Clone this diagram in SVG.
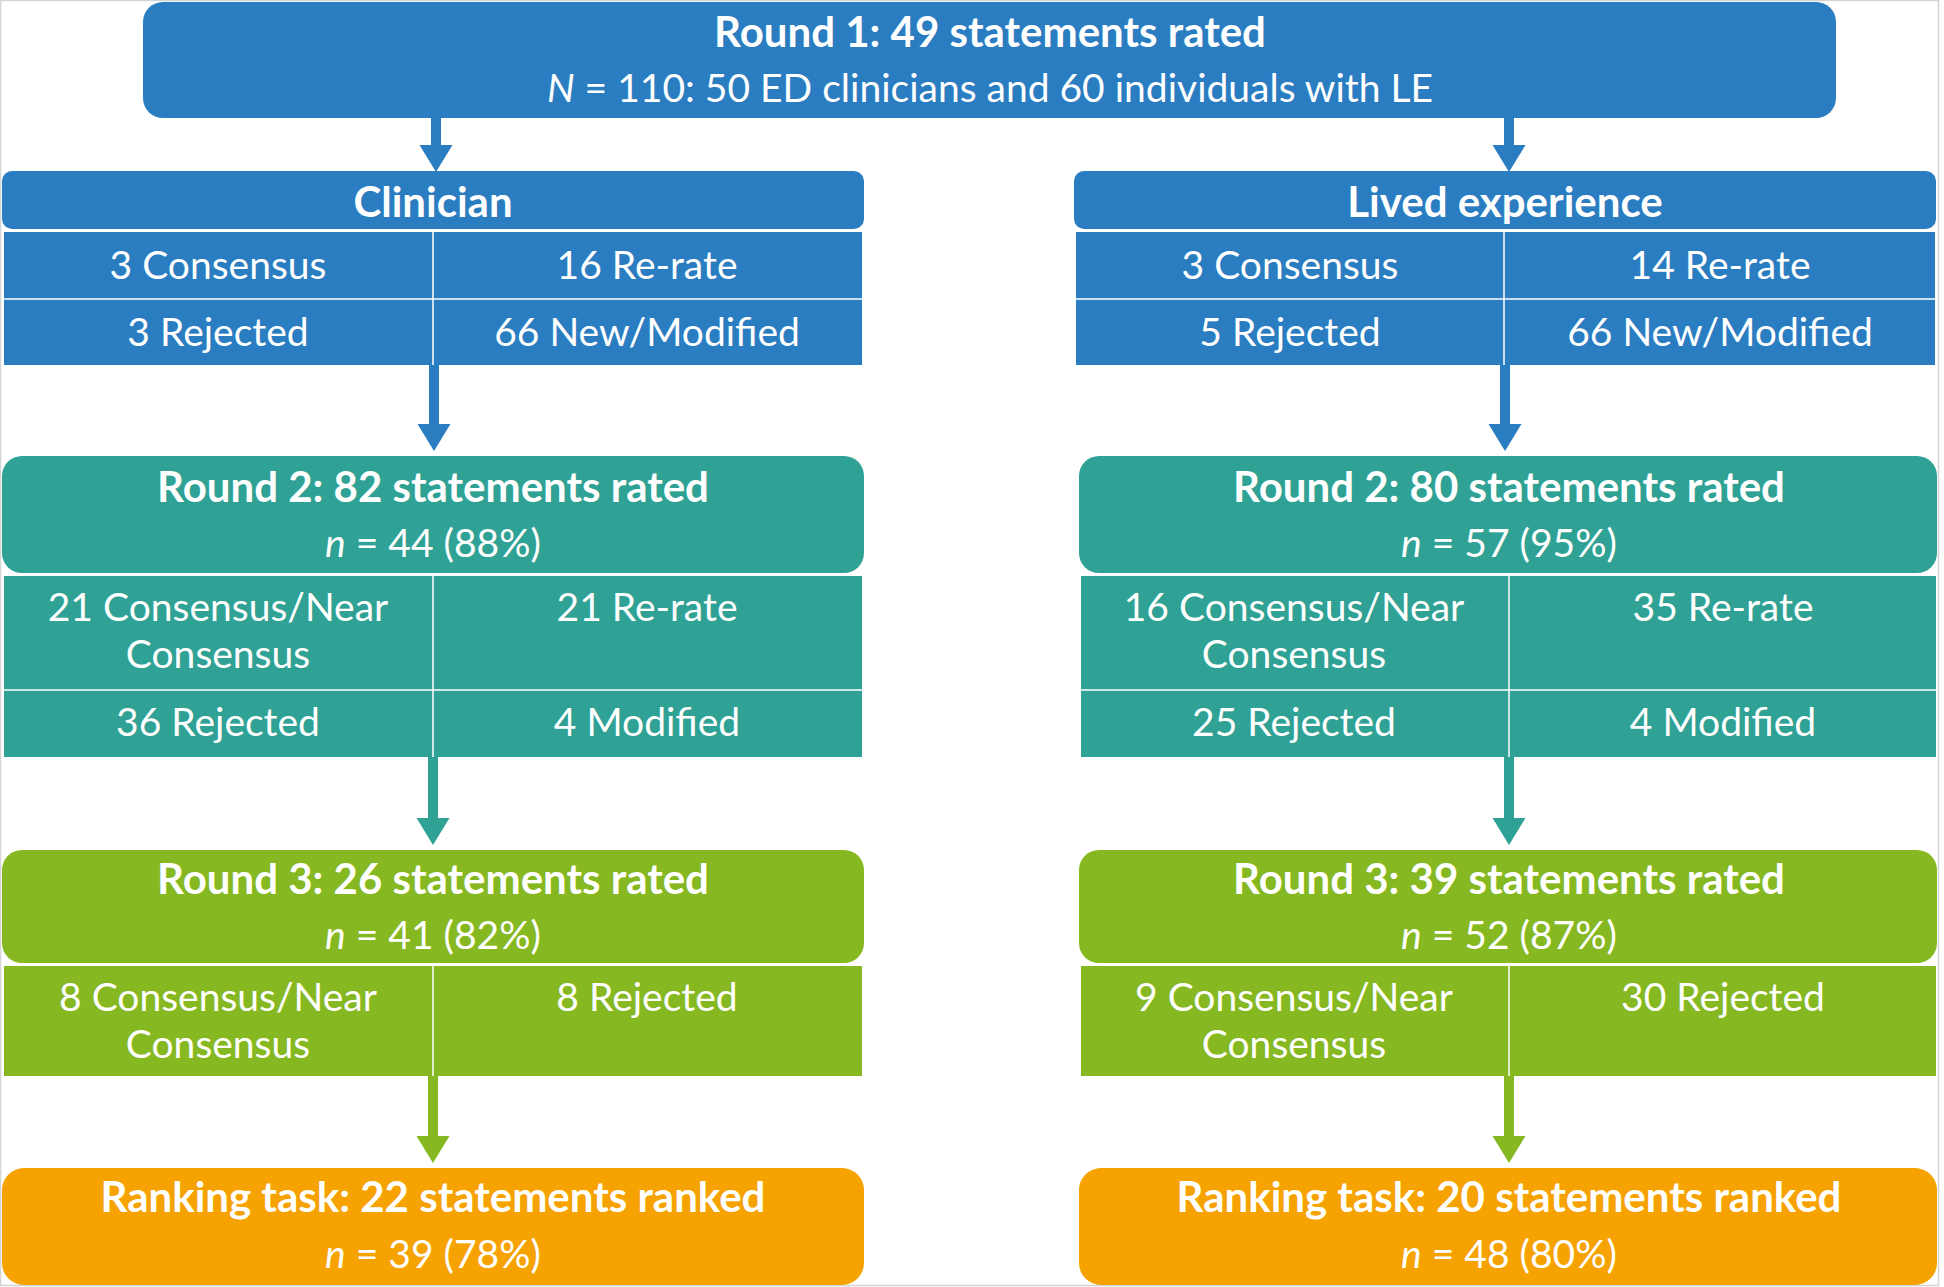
<svg xmlns="http://www.w3.org/2000/svg" width="1944" height="1287" viewBox="0 0 1944 1287">
<style>
.t{font-family:Lato,"Liberation Sans",sans-serif;fill:#fff;text-anchor:middle;font-size:39px}
.b{font-weight:bold;font-size:42px}
.i{font-style:italic}
.blue{fill:#2B7DC1}
.teal{fill:#30A295}
.green{fill:#86B821}
.orange{fill:#F6A200}
.div{stroke:#ffffff;stroke-opacity:0.75;stroke-width:2}
</style>
<defs>
<path id="ah" d="M-16.5,0 L16.5,0 L0,27 Z"/>
</defs>
<rect x="0" y="0" width="1944" height="1287" fill="#fff"/>
<rect x="0.5" y="0.5" width="1938" height="1285" fill="none" stroke="#d4d4d4" stroke-width="1.5"/>

<g id="connectors">
<g class="blue">
<rect x="431" y="118" width="10" height="30"/><use href="#ah" x="436" y="145"/>
<rect x="1504" y="118" width="10" height="30"/><use href="#ah" x="1509" y="145"/>
<rect x="429" y="365" width="10" height="62"/><use href="#ah" x="434" y="424"/>
<rect x="1500" y="365" width="10" height="62"/><use href="#ah" x="1505" y="424"/>
</g>
<g class="teal">
<rect x="428" y="757" width="10" height="62"/><use href="#ah" x="433" y="818"/>
<rect x="1504" y="757" width="10" height="62"/><use href="#ah" x="1509" y="818"/>
</g>
<g class="green">
<rect x="428" y="1076" width="10" height="60"/><use href="#ah" x="433" y="1136"/>
<rect x="1504" y="1076" width="10" height="60"/><use href="#ah" x="1509" y="1136"/>
</g>
</g>

<g id="round1">
<rect class="blue" x="143" y="2" width="1693" height="116" rx="20"/>
<text class="t b" x="990" y="47">Round 1: 49 statements rated</text>
<text class="t" x="990" y="102"><tspan class="i">N</tspan> = 110: 50 ED clinicians and 60 individuals with LE</text>
</g>

<g id="clinician-header">
<rect class="blue" x="2" y="171" width="862" height="58" rx="10"/>
<text class="t b" x="433" y="217">Clinician</text>
</g>
<g id="clinician-r1-table">
<rect class="blue" x="4" y="232" width="858" height="133"/>
<line class="div" x1="4" y1="299" x2="862" y2="299"/>
<line class="div" x1="433" y1="232" x2="433" y2="365"/>
<text class="t" x="218" y="279">3 Consensus</text>
<text class="t" x="647" y="279">16 Re-rate</text>
<text class="t" x="218" y="346">3 Rejected</text>
<text class="t" x="647" y="346">66 New/Modified</text>
</g>

<g id="le-header">
<rect class="blue" x="1074" y="171" width="862" height="58" rx="10"/>
<text class="t b" x="1505" y="217">Lived experience</text>
</g>
<g id="le-r1-table">
<rect class="blue" x="1076" y="232" width="859" height="133"/>
<line class="div" x1="1076" y1="299" x2="1935" y2="299"/>
<line class="div" x1="1504" y1="232" x2="1504" y2="365"/>
<text class="t" x="1290" y="279">3 Consensus</text>
<text class="t" x="1720" y="279">14 Re-rate</text>
<text class="t" x="1290" y="346">5 Rejected</text>
<text class="t" x="1720" y="346">66 New/Modified</text>
</g>

<g id="clinician-round2">
<rect class="teal" x="2" y="456" width="862" height="117" rx="20"/>
<text class="t b" x="433" y="502">Round 2: 82 statements rated</text>
<text class="t" x="433" y="557"><tspan class="i">n</tspan> = 44 (88%)</text>
</g>
<g id="clinician-r2-table">
<rect class="teal" x="4" y="576" width="858" height="181"/>
<line class="div" x1="4" y1="690" x2="862" y2="690"/>
<line class="div" x1="433" y1="576" x2="433" y2="757"/>
<text class="t" x="218" y="621">21 Consensus/Near</text>
<text class="t" x="218" y="668">Consensus</text>
<text class="t" x="647" y="621">21 Re-rate</text>
<text class="t" x="218" y="736">36 Rejected</text>
<text class="t" x="647" y="736">4 Modified</text>
</g>

<g id="le-round2">
<rect class="teal" x="1079" y="456" width="858" height="117" rx="20"/>
<text class="t b" x="1509" y="502">Round 2: 80 statements rated</text>
<text class="t" x="1509" y="557"><tspan class="i">n</tspan> = 57 (95%)</text>
</g>
<g id="le-r2-table">
<rect class="teal" x="1081" y="576" width="855" height="181"/>
<line class="div" x1="1081" y1="690" x2="1936" y2="690"/>
<line class="div" x1="1509" y1="576" x2="1509" y2="757"/>
<text class="t" x="1294" y="621">16 Consensus/Near</text>
<text class="t" x="1294" y="668">Consensus</text>
<text class="t" x="1723" y="621">35 Re-rate</text>
<text class="t" x="1294" y="736">25 Rejected</text>
<text class="t" x="1723" y="736">4 Modified</text>
</g>

<g id="clinician-round3">
<rect class="green" x="2" y="850" width="862" height="113" rx="20"/>
<text class="t b" x="433" y="894">Round 3: 26 statements rated</text>
<text class="t" x="433" y="949"><tspan class="i">n</tspan> = 41 (82%)</text>
</g>
<g id="clinician-r3-table">
<rect class="green" x="4" y="966" width="858" height="110"/>
<line class="div" x1="433" y1="966" x2="433" y2="1076"/>
<text class="t" x="218" y="1011">8 Consensus/Near</text>
<text class="t" x="218" y="1058">Consensus</text>
<text class="t" x="647" y="1011">8 Rejected</text>
</g>

<g id="le-round3">
<rect class="green" x="1079" y="850" width="858" height="113" rx="20"/>
<text class="t b" x="1509" y="894">Round 3: 39 statements rated</text>
<text class="t" x="1509" y="949"><tspan class="i">n</tspan> = 52 (87%)</text>
</g>
<g id="le-r3-table">
<rect class="green" x="1081" y="966" width="855" height="110"/>
<line class="div" x1="1509" y1="966" x2="1509" y2="1076"/>
<text class="t" x="1294" y="1011">9 Consensus/Near</text>
<text class="t" x="1294" y="1058">Consensus</text>
<text class="t" x="1723" y="1011">30 Rejected</text>
</g>

<g id="clinician-ranking">
<rect class="orange" x="2" y="1168" width="862" height="117" rx="22"/>
<text class="t b" x="433" y="1212">Ranking task: 22 statements ranked</text>
<text class="t" x="433" y="1268"><tspan class="i">n</tspan> = 39 (78%)</text>
</g>
<g id="le-ranking">
<rect class="orange" x="1079" y="1168" width="858" height="117" rx="22"/>
<text class="t b" x="1509" y="1212">Ranking task: 20 statements ranked</text>
<text class="t" x="1509" y="1268"><tspan class="i">n</tspan> = 48 (80%)</text>
</g>
</svg>
